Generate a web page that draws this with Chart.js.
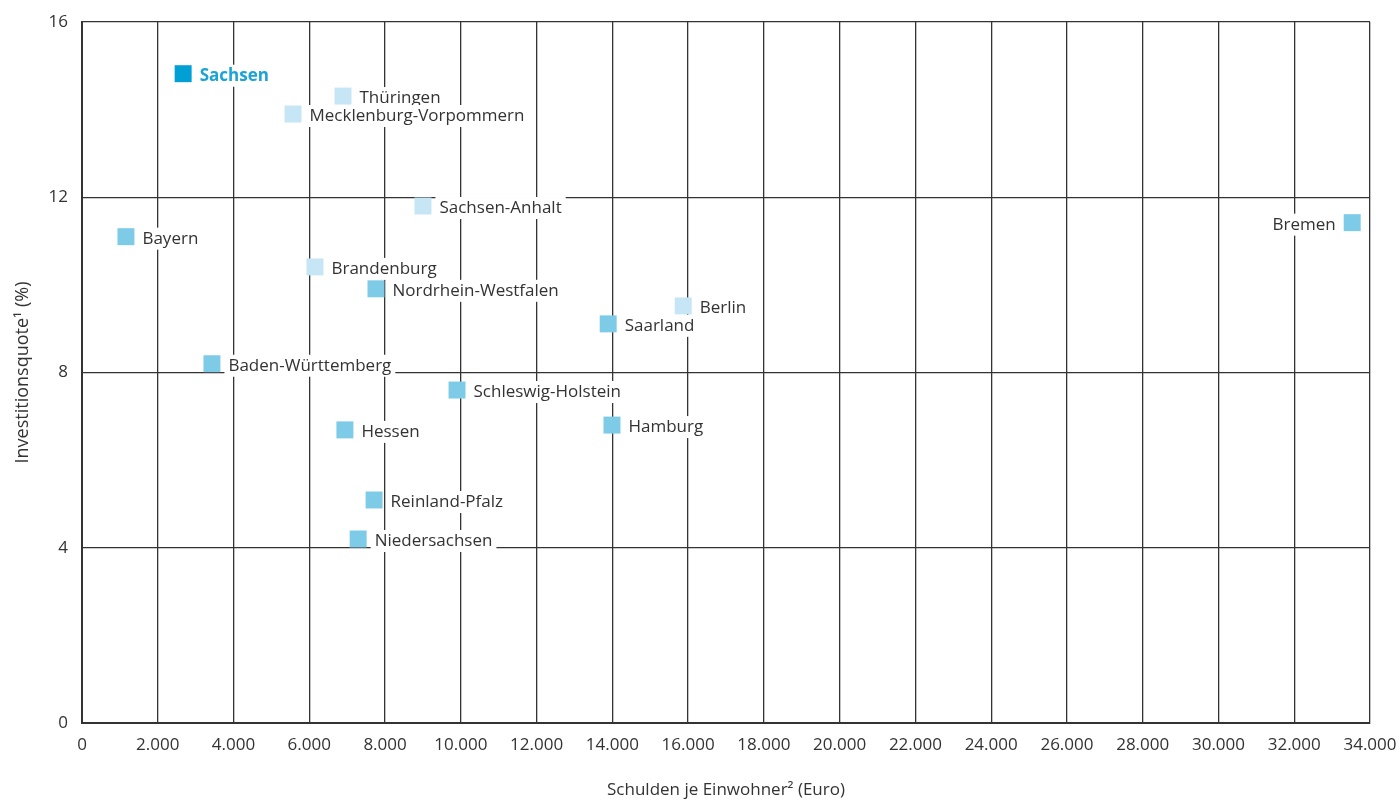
<!DOCTYPE html>
<html lang="de">
<head>
<meta charset="utf-8">
<title>Investitionsquote und Schulden je Einwohner</title>
<script src="https://cdn.jsdelivr.net/npm/chart.js@4/dist/chart.umd.min.js"></script>
<style>
  html, body { margin: 0; padding: 0; background: #ffffff; }
  #wrap { width: 1400px; height: 800px; position: relative; }
</style>
</head>
<body>
<div id="wrap"><canvas id="chart" width="1400" height="800"></canvas></div>
<script>
// Länder, Schulden je Einwohner (Euro) und Investitionsquote (%)
const states = ['Sachsen', 'Thüringen', 'Mecklenburg-Vorpommern', 'Sachsen-Anhalt', 'Bayern', 'Bremen',
  'Brandenburg', 'Nordrhein-Westfalen', 'Berlin', 'Saarland', 'Baden-Württemberg', 'Schleswig-Holstein',
  'Hamburg', 'Hessen', 'Reinland-Pfalz', 'Niedersachsen'];
const debtPerCapita = [2670, 6890, 5570, 9000, 1160, 33530, 6150, 7760, 15870, 13890, 3430, 9900,
  13990, 6940, 7710, 7290];
const investmentRate = [14.82, 14.31, 13.90, 11.80, 11.10, 11.42, 10.41, 9.91, 9.52, 9.11, 8.20, 7.60,
  6.80, 6.69, 5.09, 4.20];
// Gruppe: 'focus' = Sachsen, 'east' = neue Länder, 'west' = alte Länder
const groups = ['focus', 'east', 'east', 'east', 'west', 'west', 'east', 'west', 'east', 'west', 'west', 'west',
  'west', 'west', 'west', 'west'];
const labelSide = ['right', 'right', 'right', 'right', 'right', 'left', 'right', 'right', 'right', 'right', 'right',
  'right', 'right', 'right', 'right', 'right'];
const xTicks = [0, 2000, 4000, 6000, 8000, 10000, 12000, 14000, 16000, 18000, 20000, 22000, 24000, 26000,
  28000, 30000, 32000, 34000];
const yTicks = [0, 4, 8, 12, 16];

const groupColor = { focus: '#009fd4', east: '#c6e5f5', west: '#7ecbe8' };
const FONT = '"Open Sans", "DejaVu Sans", sans-serif';

function formatThousands(v) {
  return String(v).replace(/\B(?=(\d{3})+(?!\d))/g, '.');
}

// Punktbeschriftungen mit weißem Hintergrund
const pointLabels = {
  id: 'pointLabels',
  afterDatasetsDraw(chart) {
    const ctx = chart.ctx;
    const meta = chart.getDatasetMeta(0);
    ctx.save();
    meta.data.forEach((pt, i) => {
      const isFocus = groups[i] === 'focus';
      ctx.font = (isFocus ? 'bold ' : '') + '17px ' + FONT;
      const text = states[i];
      const w = ctx.measureText(text).width;
      const half = 8.5;
      const gap = 8;
      let x;
      if (labelSide[i] === 'left') {
        x = pt.x - half - gap - w;
      } else {
        x = pt.x + half + gap;
      }
      const y = pt.y + 2;
      ctx.fillStyle = '#ffffff';
      ctx.fillRect(x - 4, y - 11, w + 8, 22);
      ctx.fillStyle = isFocus ? '#1aa3d6' : '#333333';
      ctx.textBaseline = 'middle';
      ctx.textAlign = 'left';
      ctx.fillText(text, x, y);
    });
    ctx.restore();
  }
};

const ctx = document.getElementById('chart').getContext('2d');
new Chart(ctx, {
  type: 'scatter',
  data: {
    datasets: [{
      data: debtPerCapita.map((d, i) => ({ x: d, y: investmentRate[i] })),
      pointStyle: 'rect',
      pointRadius: 12,
      pointHoverRadius: 12,
      borderWidth: 0,
      backgroundColor: groups.map(g => groupColor[g]),
      borderColor: groups.map(g => groupColor[g])
    }]
  },
  options: {
    responsive: false,
    animation: false,
    devicePixelRatio: 1,
    layout: { padding: { top: 22, right: 30, left: 0, bottom: 0 } },
    plugins: {
      legend: { display: false },
      tooltip: { enabled: false }
    },
    scales: {
      x: {
        type: 'linear',
        min: 0,
        max: 34000,
        afterBuildTicks(scale) { scale.ticks = xTicks.map(v => ({ value: v })); },
        afterFit(scale) {
          scale.height = 77;
          scale.paddingLeft = 0;
          scale.paddingRight = 0;
        },
        ticks: {
          color: '#333333',
          font: { family: FONT, size: 17 },
          padding: 12,
          maxRotation: 0,
          autoSkip: false,
          callback: v => formatThousands(v)
        },
        grid: { color: '#333333', lineWidth: 1.3, drawTicks: false },
        border: { color: '#333333', width: 2 },
        title: {
          display: true,
          text: 'Schulden je Einwohner² (Euro)',
          color: '#333333',
          font: { family: FONT, size: 17 },
          padding: { top: 0, bottom: 0 }
        }
      },
      y: {
        type: 'linear',
        min: 0,
        max: 16,
        afterBuildTicks(scale) { scale.ticks = yTicks.map(v => ({ value: v })); },
        afterFit(scale) {
          scale.width = 82;
          scale.paddingTop = 0;
          scale.paddingBottom = 0;
        },
        ticks: {
          color: '#333333',
          font: { family: FONT, size: 17 },
          padding: 14
        },
        grid: { color: '#333333', lineWidth: 1.3, drawTicks: false },
        border: { color: '#333333', width: 2 },
        title: {
          display: true,
          text: 'Investitionsquote¹ (%)',
          color: '#333333',
          font: { family: FONT, size: 18 },
          padding: { top: 12, bottom: 0 }
        }
      }
    }
  },
  plugins: [pointLabels]
});
</script>
</body>
</html>
